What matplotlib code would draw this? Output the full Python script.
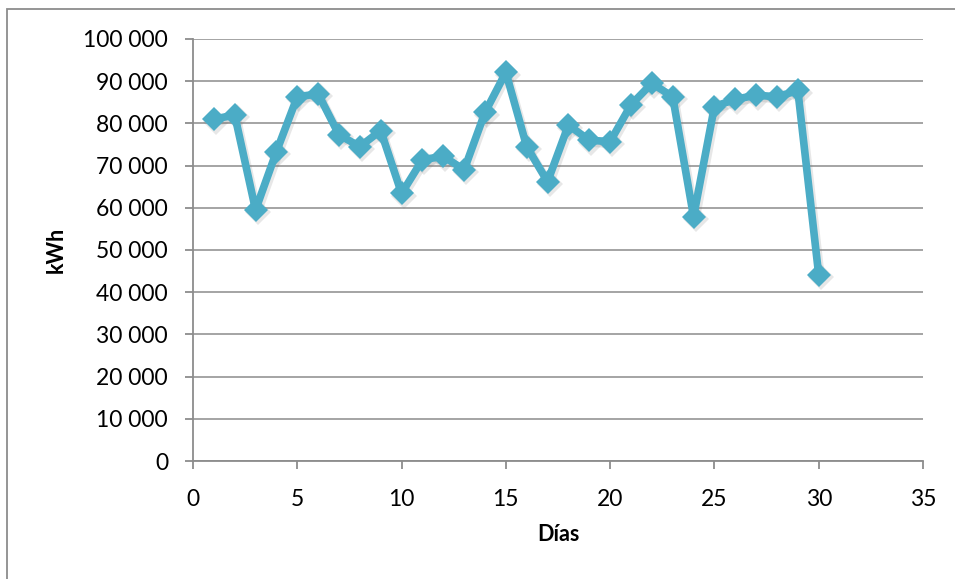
import matplotlib.pyplot as plt
import matplotlib.transforms as mtransforms
from matplotlib.patches import Rectangle
from matplotlib.ticker import FuncFormatter, MultipleLocator

# consumo diario (kWh) por día del mes
dias = list(range(1, 31))
kwh = [81000, 82000, 59500, 73300, 86300, 87000, 77300, 74500, 78300, 63400,
       71400, 72200, 69000, 82600, 92100, 74500, 66200, 79600, 76000, 75700,
       84400, 89500, 86300, 57900, 84000, 85700, 86700, 86300, 87800, 44100]

plt.rcParams['font.family'] = ['Lato', 'DejaVu Sans']

fig = plt.figure(figsize=(9.55, 5.79), dpi=100)
ax = fig.add_axes([193 / 955, 1 - 461 / 579, 730 / 955, 422 / 579])

# marco del gráfico
fig.add_artist(Rectangle((7 / 955, -0.1), 1.2, 1 - 9 / 579 + 0.1,
                         transform=fig.transFigure, fill=False,
                         edgecolor='#8c8c8c', linewidth=1.3))

color = '#4bacc6'

# sombra ligera debajo de la serie
sombra = mtransforms.offset_copy(ax.transData, fig=fig, x=2, y=-2.5, units='dots')
ax.plot(dias, kwh, color='#7a7a7a', alpha=0.18, linewidth=6, marker='D',
        markersize=13, markeredgewidth=0, transform=sombra, zorder=2)

ax.plot(dias, kwh, color=color, linewidth=5.5, marker='D', markersize=12.5,
        markeredgewidth=0, zorder=3)

ax.set_xlim(0, 35)
ax.set_ylim(0, 100000)
ax.xaxis.set_major_locator(MultipleLocator(5))
ax.yaxis.set_major_locator(MultipleLocator(10000))
ax.yaxis.set_major_formatter(FuncFormatter(lambda v, p: f'{int(v):,}'.replace(',', ' ')))

ax.grid(axis='y', color='#8c8c8c', linewidth=1.1)
ax.set_axisbelow(True)
for s in ['top', 'right']:
    ax.spines[s].set_visible(False)
for s in ['left', 'bottom']:
    ax.spines[s].set_color('#8c8c8c')
    ax.spines[s].set_linewidth(1.3)

ax.tick_params(axis='both', direction='out', length=6, width=1.3, color='#8c8c8c',
               labelsize=16.5, labelcolor='black')
ax.tick_params(axis='y', pad=12)
ax.tick_params(axis='x', pad=14)

ax.set_xlabel('Días', fontsize=15.5, fontweight='bold', labelpad=10)
ax.set_ylabel('kWh', fontsize=15.5, fontweight='bold', labelpad=12)

fig.savefig('out.png', dpi=100)
